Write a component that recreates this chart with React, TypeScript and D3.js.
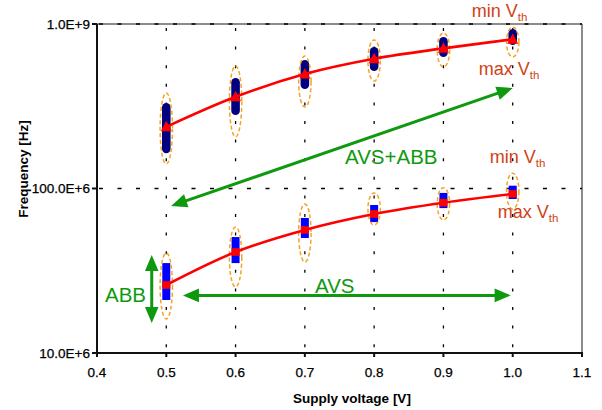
import React from "react";
import * as d3 from "d3";

// Supply voltages where the frequency spread was measured
const voltages = [0.5, 0.6, 0.7, 0.8, 0.9, 1.0];

// Upper family (low Vth corner): median frequency and spread
const upperMedian = [2.37e8, 3.61e8, 4.97e8, 6.15e8, 7.11e8, 8.07e8];
const upperSpreadLo = [1.64e8, 2.8e8, 4.03e8, 5.18e8, 6.3e8, 7.45e8];
const upperSpreadHi = [3.31e8, 4.7e8, 6.04e8, 7.24e8, 8.34e8, 9.33e8];
const upperEnvLo = [1.41e8, 2.06e8, 3.13e8, 4.5e8, 5.48e8, 6.3e8];
const upperEnvHi = [3.81e8, 5.56e8, 6.38e8, 8.0e8, 8.81e8, 9.59e8];

// Lower family (high Vth corner): median frequency and spread
const lowerMedian = [2.59e7, 4.11e7, 5.6e7, 7.0e7, 8.2e7, 9.27e7];
const lowerSpreadLo = [2.1e7, 3.52e7, 5.0e7, 6.25e7, 7.6e7, 8.63e7];
const lowerSpreadHi = [3.52e7, 5.07e7, 6.62e7, 7.94e7, 9.4e7, 1.04e8];
const lowerEnvLo = [1.61e7, 2.52e7, 3.57e7, 6.0e7, 6.44e7, 7.5e7];
const lowerEnvHi = [4.06e7, 5.84e7, 8.05e7, 9.4e7, 1.01e8, 1.24e8];

// Axis ticks
const xTicks = [0.4, 0.5, 0.6, 0.7, 0.8, 0.9, 1.0, 1.1];
const xTickLabels = ["0.4", "0.5", "0.6", "0.7", "0.8", "0.9", "1.0", "1.1"];
const yTicks = [1e7, 1e8, 1e9];
const yTickLabels = ["10.0E+6", "100.0E+6", "1.0E+9"];

// Tuning-range arrows: [x1, f1, x2, f2]
const avsAbbArrow = [0.507, 7.83e7, 1.0, 4.08e8];
const avsArrow = [0.524, 2.24e7, 0.997, 2.24e7];
const abbArrow = [0.479, 3.94e7, 0.479, 1.52e7];

const W = 602;
const H = 410;
const FONT = "'Liberation Sans', Arial, Helvetica, sans-serif";
const GREEN = "#0f990f";
const LABEL = "#cf4214";
const ORANGE = "#f5a327";

const x = d3.scaleLinear().domain([0.4, 1.1]).range([97, 582]);
const y = d3.scaleLog().domain([1e7, 1e9]).range([353, 24]);

function DoubleArrow({ a }: { a: number[] }) {
  const [x1, f1, x2, f2] = a;
  const p1 = [x(x1), y(f1)];
  const p2 = [x(x2), y(f2)];
  const dx = p2[0] - p1[0];
  const dy = p2[1] - p1[1];
  const len = Math.hypot(dx, dy);
  const ux = dx / len;
  const uy = dy / len;
  const hl = 16;
  const hw = 6.8;
  const head = (tip: number[], dir: number) => {
    const bx = tip[0] - dir * ux * hl;
    const by = tip[1] - dir * uy * hl;
    const px = -uy * hw;
    const py = ux * hw;
    return `${tip[0]},${tip[1]} ${bx + px},${by + py} ${bx - px},${by - py}`;
  };
  return (
    <g>
      <line
        x1={p1[0] + ux * (hl - 2)}
        y1={p1[1] + uy * (hl - 2)}
        x2={p2[0] - ux * (hl - 2)}
        y2={p2[1] - uy * (hl - 2)}
        stroke={GREEN}
        strokeWidth={3}
      />
      <polygon points={head(p2, 1)} fill={GREEN} />
      <polygon points={head(p1, -1)} fill={GREEN} />
    </g>
  );
}

function Vth({ px, py, kind }: { px: number; py: number; kind: string }) {
  return (
    <text x={px} y={py} fontFamily={FONT} fontSize={18} fill={LABEL}>
      {kind} V
      <tspan fontSize={11.5} dy={4}>
        th
      </tspan>
    </text>
  );
}

export default function App() {
  const medianLine = d3
    .line<number>()
    .x((_, i) => x(voltages[i]))
    .y((d) => y(d))
    .curve(d3.curveCatmullRom.alpha(0.5));

  const plotLeft = x(0.4);
  const plotRight = x(1.1);
  const plotTop = y(1e9);
  const plotBottom = y(1e7);

  const lastUpper = [x(voltages[5]), y(upperMedian[5])];
  const lastLower = [x(voltages[5]), y(lowerMedian[5])];

  return (
    <svg
      width={W}
      height={H}
      style={{ position: "absolute", left: 0, top: 0, background: "#fff" }}
    >
      {/* frame: grey top/right border */}
      <line x1={plotLeft} y1={plotTop} x2={plotRight} y2={plotTop} stroke="#8c8c8c" strokeWidth={2} />
      <line x1={plotRight} y1={plotTop} x2={plotRight} y2={plotBottom} stroke="#8c8c8c" strokeWidth={2} />

      {/* grid */}
      {voltages.map((v) => (
        <line
          key={"gx" + v}
          x1={x(v)}
          x2={x(v)}
          y1={plotTop}
          y2={plotBottom}
          stroke="#000"
          strokeWidth={1.3}
          strokeDasharray="3 15.6"
          strokeDashoffset={-4}
        />
      ))}
      {[1e8, 1e9].map((t) => (
        <line
          key={"gy" + t}
          x1={plotLeft}
          x2={plotRight}
          y1={y(t)}
          y2={y(t)}
          stroke="#000"
          strokeWidth={1.3}
          strokeDasharray="4 14.5"
          strokeDashoffset={-2}
        />
      ))}

      {/* axes */}
      <line x1={plotLeft} y1={plotTop} x2={plotLeft} y2={plotBottom + 1} stroke="#111" strokeWidth={2} />
      <line x1={plotLeft - 1} y1={plotBottom} x2={plotRight + 1} y2={plotBottom} stroke="#111" strokeWidth={2} />
      {yTicks.map((t, i) => (
        <g key={"yt" + t}>
          <line x1={plotLeft - 5} x2={plotLeft} y1={y(t)} y2={y(t)} stroke="#111" strokeWidth={2} />
          <text
            x={plotLeft - 7}
            y={y(t)}
            dy="0.36em"
            textAnchor="end"
            fontFamily={FONT}
            fontSize={13.5}
            fill="#000"
            stroke="#000"
            strokeWidth={0.25}
          >
            {yTickLabels[i]}
          </text>
        </g>
      ))}
      {xTicks.map((t, i) => (
        <g key={"xt" + t}>
          <line x1={x(t)} x2={x(t)} y1={plotBottom} y2={plotBottom + 4} stroke="#111" strokeWidth={2} />
          <text
            x={x(t)}
            y={377}
            textAnchor="middle"
            fontFamily={FONT}
            fontSize={13.5}
            fill="#000"
            stroke="#000"
            strokeWidth={0.25}
          >
            {xTickLabels[i]}
          </text>
        </g>
      ))}
      <text
        x={352}
        y={403}
        textAnchor="middle"
        fontFamily={FONT}
        fontWeight="bold"
        fontSize={13.5}
        fill="#000"
      >
        Supply voltage [V]
      </text>
      <text
        transform={`translate(28,169) rotate(-90)`}
        textAnchor="middle"
        fontFamily={FONT}
        fontWeight="bold"
        fontSize={13.5}
        fill="#000"
      >
        Frequency [Hz]
      </text>

      {/* spread clusters and envelopes */}
      {voltages.map((v, i) => {
        const cx = x(v);
        const uTop = y(upperEnvHi[i]);
        const uBot = y(upperEnvLo[i]);
        const lTop = y(lowerEnvHi[i]);
        const lBot = y(lowerEnvLo[i]);
        return (
          <g key={"c" + v}>
            <rect
              x={cx - 4.3}
              width={8.6}
              y={y(upperSpreadHi[i])}
              height={y(upperSpreadLo[i]) - y(upperSpreadHi[i])}
              rx={4.3}
              fill="#000080"
            />
            <rect
              x={cx - 4}
              width={8}
              y={y(lowerSpreadHi[i])}
              height={y(lowerSpreadLo[i]) - y(lowerSpreadHi[i])}
              fill="#0000ff"
            />
            <ellipse
              cx={cx}
              cy={(uTop + uBot) / 2}
              rx={6.2}
              ry={(uBot - uTop) / 2}
              fill="none"
              stroke={ORANGE}
              strokeWidth={1.5}
              strokeDasharray="4 2.5"
            />
            <ellipse
              cx={cx}
              cy={(lTop + lBot) / 2}
              rx={6.2}
              ry={(lBot - lTop) / 2}
              fill="none"
              stroke={ORANGE}
              strokeWidth={1.5}
              strokeDasharray="4 2.5"
            />
          </g>
        );
      })}

      {/* median curves */}
      <path d={medianLine(upperMedian) || ""} fill="none" stroke="#ff0000" strokeWidth={2.6} />
      <path d={medianLine(lowerMedian) || ""} fill="none" stroke="#ff0000" strokeWidth={2.6} />
      {voltages.map((v, i) => {
        const cx = x(v);
        const cy = y(upperMedian[i]);
        return (
          <polygon
            key={"tri" + v}
            points={`${cx},${cy - 6} ${cx - 5.5},${cy + 4.5} ${cx + 5.5},${cy + 4.5}`}
            fill="#ff0000"
          />
        );
      })}
      {voltages.map((v, i) => (
        <rect
          key={"sq" + v}
          x={x(v) - 4}
          y={y(lowerMedian[i]) - 3.8}
          width={8}
          height={7.6}
          fill="#ff0000"
        />
      ))}

      {/* tuning arrows */}
      <DoubleArrow a={avsAbbArrow} />
      <DoubleArrow a={avsArrow} />
      <DoubleArrow a={abbArrow} />
      <text x={345} y={164} fontFamily={FONT} fontSize={20.5} fill={GREEN}>
        AVS+ABB
      </text>
      <text x={315} y={292.5} fontFamily={FONT} fontSize={20.5} fill={GREEN}>
        AVS
      </text>
      <text x={105} y={302} fontFamily={FONT} fontSize={20.5} fill={GREEN}>
        ABB
      </text>

      {/* threshold corner labels */}
      <Vth px={lastUpper[0] - 41} py={lastUpper[1] - 22} kind="min" />
      <Vth px={lastUpper[0] - 34} py={lastUpper[1] + 36} kind="max" />
      <Vth px={lastLower[0] - 23} py={lastLower[1] - 31} kind="min" />
      <Vth px={lastLower[0] - 15} py={lastLower[1] + 24} kind="max" />
    </svg>
  );
}
